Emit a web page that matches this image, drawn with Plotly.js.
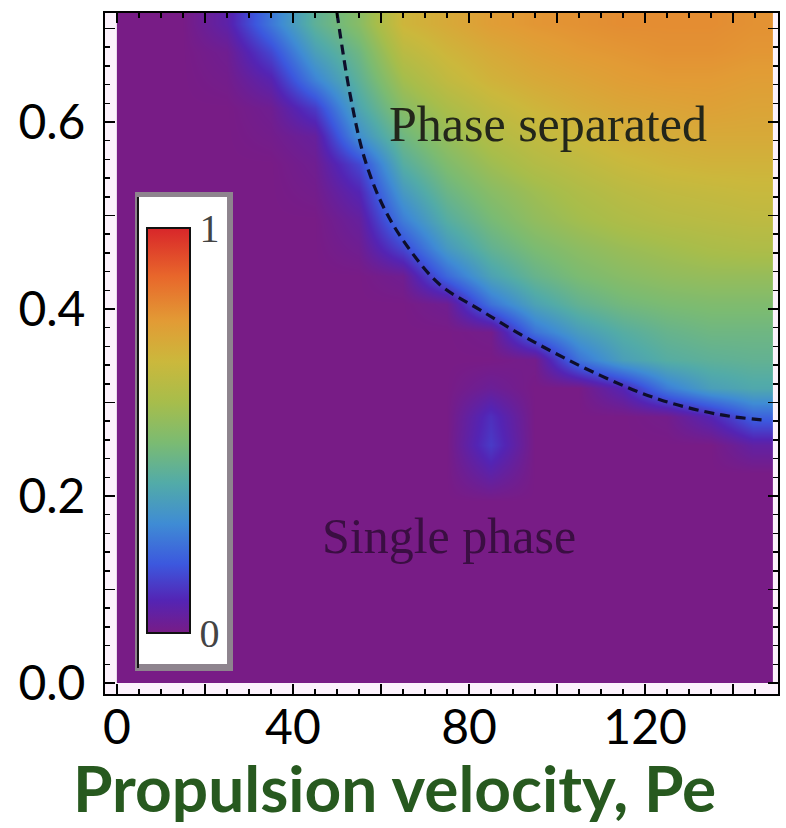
<!DOCTYPE html>
<html>
<head>
<meta charset="utf-8">
<script src="https://cdn.plot.ly/plotly-3.0.1.min.js"></script>
<style>
  html, body { margin: 0; padding: 0; background: #ffffff; }
  #chart { width: 786px; height: 828px; }
</style>
</head>
<body>
<div id="chart"></div>
<script>
// Grid edges (Pe and vertical axis) of the phase map
const xEdges = [0, 10, 20, 30, 40, 50, 60, 70, 80, 90, 100, 110, 120, 130, 140, 149];
const yEdges = [0, 0.03, 0.06, 0.09, 0.12, 0.15, 0.18, 0.21, 0.24, 0.27, 0.30, 0.33, 0.36,
                0.39, 0.42, 0.45, 0.48, 0.51, 0.54, 0.57, 0.60, 0.63, 0.66, 0.69, 0.72];

// Order parameter, rows bottom -> top, columns Pe = 5 ... 145
const zRows = [
  [0,0,0,0,0,0,0,0,0,0,0,0,0,0,0],
  [0,0,0,0,0,0,0,0,0,0,0,0,0,0,0],
  [0,0,0,0,0,0,0,0,0,0,0,0,0,0,0],
  [0,0,0,0,0,0,0,0,0,0,0,0,0,0,0],
  [0,0,0,0,0,0,0,0,0,0,0,0,0,0,0],
  [0,0,0,0,0,0,0,0,0,0,0,0,0,0,0],
  [0,0,0,0,0,0,0,0,0,0,0,0,0,0,0],
  [0,0,0,0,0,0,0,0,0.06,0,0,0,0,0,0],
  [0,0,0,0,0,0,0,0,0.12,0,0,0,0,0,0.05],
  [0,0,0,0,0,0,0,0,0.10,0,0,0,0.01,0.08,0.19],
  [0,0,0,0,0,0,0,0,0.03,0,0,0.08,0.24,0.33,0.36],
  [0,0,0,0,0,0,0,0,0,0.01,0.22,0.33,0.38,0.40,0.41],
  [0,0,0,0,0,0,0,0,0.01,0.22,0.32,0.38,0.42,0.44,0.44],
  [0,0,0,0,0,0,0,0.02,0.22,0.34,0.41,0.45,0.47,0.48,0.48],
  [0,0,0,0,0,0,0.02,0.20,0.34,0.42,0.47,0.50,0.52,0.53,0.53],
  [0,0,0,0,0,0.02,0.14,0.31,0.41,0.47,0.51,0.54,0.56,0.58,0.59],
  [0,0,0,0,0,0.04,0.24,0.38,0.46,0.52,0.56,0.59,0.61,0.62,0.63],
  [0,0,0,0,0.01,0.08,0.31,0.43,0.50,0.55,0.59,0.62,0.64,0.65,0.66],
  [0,0,0,0,0.02,0.14,0.38,0.48,0.55,0.60,0.63,0.66,0.68,0.69,0.69],
  [0,0,0,0.01,0.04,0.28,0.44,0.53,0.60,0.64,0.67,0.70,0.71,0.72,0.72],
  [0,0,0,0.02,0.12,0.35,0.50,0.58,0.64,0.68,0.71,0.73,0.74,0.75,0.74],
  [0,0,0.01,0.07,0.25,0.40,0.56,0.64,0.69,0.72,0.74,0.76,0.77,0.77,0.76],
  [0,0,0.02,0.14,0.33,0.44,0.62,0.68,0.72,0.75,0.77,0.78,0.79,0.79,0.78],
  [0,0,0.06,0.23,0.40,0.50,0.68,0.72,0.76,0.78,0.79,0.80,0.80,0.80,0.79]
];

// Dashed phase boundary
const boundaryX = [50, 53, 56.4, 60.9, 66.6, 73.4, 82.5, 93.9, 109.8, 123.4, 137, 147.3];
const boundaryY = [0.717, 0.629, 0.559, 0.506, 0.463, 0.426, 0.399, 0.367, 0.329, 0.303, 0.287, 0.281];

// Ticks
const xTickVals = [0, 20, 40, 60, 80, 100, 120, 140];
const xTickText = ['0', '', '40', '', '80', '', '120', ''];
const yTickVals = [0, 0.1, 0.2, 0.3, 0.4, 0.5, 0.6, 0.7];
const yTickText = ['0.0', '', '0.2', '', '0.4', '', '0.6', ''];

// Colour bar
const cbTickVals = [0, 1];
const cbTickText = ['0', '1'];

// Region labels
const labelText = ['Phase separated', 'Single phase'];
const labelX = [98, 75.5];
const labelY = [0.598, 0.157];

const xTitle = 'Propulsion velocity, Pe';

const rainbow = [
  [0.00, '#781c86'],
  [0.08, '#5424b4'],
  [0.17, '#3c58de'],
  [0.27, '#3f8cd4'],
  [0.37, '#52aba8'],
  [0.47, '#7bbb72'],
  [0.57, '#a7bd4b'],
  [0.67, '#cbb83c'],
  [0.77, '#e29b35'],
  [0.88, '#e8672b'],
  [1.00, '#d8262a']
];

const heat = {
  type: 'heatmap',
  x: xEdges,
  y: yEdges,
  z: zRows,
  zmin: 0,
  zmax: 1,
  zsmooth: 'best',
  colorscale: rainbow,
  hoverinfo: 'skip',
  colorbar: {
    x: 0.0505, xanchor: 'left', xref: 'paper',
    y: 0.3869, yanchor: 'middle', yref: 'paper',
    len: 475, lenmode: 'pixels',
    thickness: 43, thicknessmode: 'pixels',
    xpad: 8, ypad: 35,
    bgcolor: 'rgba(0,0,0,0)',
    borderwidth: 0,
    outlinecolor: '#111111', outlinewidth: 2,
    ticks: '',
    tickmode: 'array',
    tickvals: cbTickVals,
    ticktext: cbTickText,
    tickfont: { family: 'Liberation Serif, DejaVu Serif, serif', size: 40, color: '#444444' }
  }
};

const boundary = {
  type: 'scatter',
  mode: 'lines',
  x: boundaryX,
  y: boundaryY,
  line: { color: '#0e0e2a', width: 3.2, dash: '10px,6px', shape: 'spline' },
  hoverinfo: 'skip',
  showlegend: false
};

const layout = {
  width: 786,
  height: 828,
  margin: { l: 105, r: 8, t: 13, b: 134 },
  paper_bgcolor: '#ffffff',
  plot_bgcolor: '#fcf2fc',
  showlegend: false,
  xaxis: {
    range: [-2.7, 150.2],
    showgrid: false, zeroline: false,
    showline: true, linecolor: '#000000', linewidth: 2, mirror: 'allticks',
    ticks: 'inside', ticklen: 10, tickwidth: 1.5, tickcolor: '#000000',
    tickmode: 'array', tickvals: xTickVals, ticktext: xTickText,
    minor: { dtick: 5, tick0: 0, ticks: 'inside', ticklen: 5, tickwidth: 1.5, tickcolor: '#000000', showgrid: false },
    tickfont: { family: 'Lato, Carlito, sans-serif', size: 48, color: '#000000' },
    ticklabelstandoff: -10
  },
  yaxis: {
    range: [-0.0118, 0.7166],
    showgrid: false, zeroline: false,
    showline: true, linecolor: '#000000', linewidth: 2, mirror: 'allticks',
    ticks: 'inside', ticklen: 10, tickwidth: 1.5, tickcolor: '#000000',
    tickmode: 'array', tickvals: yTickVals, ticktext: yTickText,
    minor: { dtick: 0.02, tick0: 0, ticks: 'inside', ticklen: 5, tickwidth: 1.5, tickcolor: '#000000', showgrid: false },
    tickfont: { family: 'Lato, Carlito, sans-serif', size: 48, color: '#000000' },
    ticklabelstandoff: 8
  },
  shapes: [
    // colour-bar frame (grey shadow, white card, dark left edge)
    { type: 'rect', xref: 'paper', yref: 'paper', layer: 'above',
      x0: 0.0446, x1: 0.1902, y0: 0.0338, y1: 0.7372,
      fillcolor: '#8e848e', line: { width: 0 } },
    { type: 'rect', xref: 'paper', yref: 'paper', layer: 'above',
      x0: 0.0476, x1: 0.1813, y0: 0.0441, y1: 0.7298,
      fillcolor: '#ffffff', line: { width: 0 } },
    { type: 'line', xref: 'paper', yref: 'paper', layer: 'above',
      x0: 0.0490, x1: 0.0490, y0: 0.0382, y1: 0.7298,
      line: { color: '#111111', width: 2 } }
  ],
  annotations: [
    {
      x: labelX[0], y: labelY[0], xref: 'x', yref: 'y',
      text: labelText[0], showarrow: false,
      font: { family: 'Liberation Serif, Times New Roman, serif', size: 50, color: '#23261a' }
    },
    {
      x: labelX[1], y: labelY[1], xref: 'x', yref: 'y',
      text: labelText[1], showarrow: false,
      font: { family: 'Liberation Serif, Times New Roman, serif', size: 50, color: '#3a0e42' }
    },
    {
      x: 0.4309, y: -0.1380, xref: 'paper', yref: 'paper',
      xanchor: 'center', yanchor: 'middle',
      text: '<b>' + xTitle + '</b>', showarrow: false,
      font: { family: 'Lato, sans-serif', size: 64, color: '#27591f' }
    }
  ]
};

Plotly.newPlot('chart', [heat, boundary], layout, { displayModeBar: false, staticPlot: true });
</script>
</body>
</html>
